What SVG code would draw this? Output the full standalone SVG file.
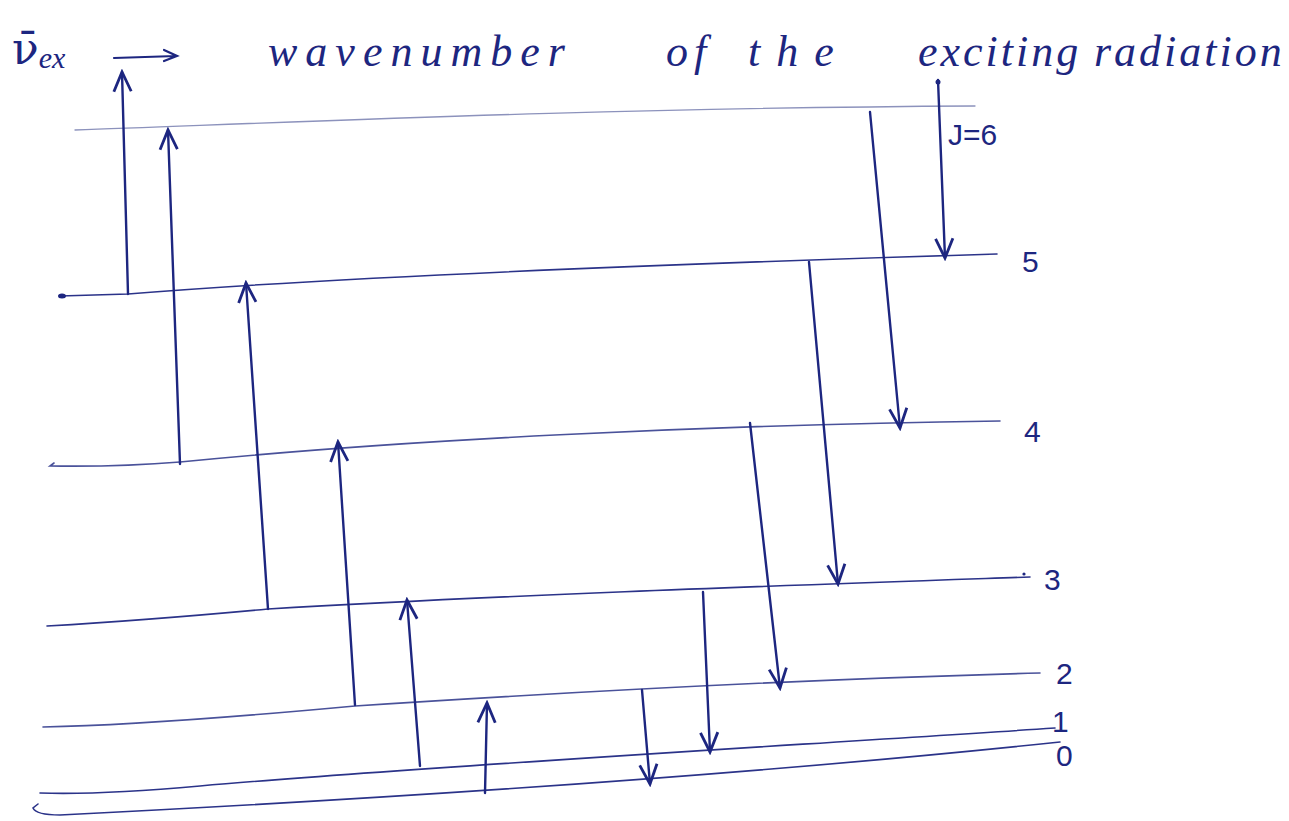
<svg xmlns="http://www.w3.org/2000/svg" width="1289" height="821" viewBox="0 0 1289 821">
<style>
.lvl{fill:none;stroke:#2b3389;stroke-width:1.6;stroke-linecap:round}
.lt{stroke:#8c92bc;stroke-width:1.3}
.md{stroke:#4a529a}
.arr{fill:none;stroke:#1d2680;stroke-width:2.4;stroke-linecap:round;marker-end:url(#ah)}
.lab{font-family:"Liberation Sans",Arial,sans-serif;font-size:30px;fill:#1d2680}
.ttl{font-family:"Liberation Serif","DejaVu Serif",serif;font-style:italic;font-size:44px;fill:#1d2680}
</style>
<defs>
<marker id="ah" viewBox="0 0 24 24" refX="21" refY="12" markerWidth="26" markerHeight="26" markerUnits="userSpaceOnUse" orient="auto">
<path d="M3,4 L21,12 L3,20" fill="none" stroke="#1d2680" stroke-width="2.6" stroke-linejoin="miter"/>
</marker>
</defs>
<rect width="1289" height="821" fill="#ffffff"/>
<g id="title">
<text x="12" y="64" font-family="DejaVu Serif,serif" font-size="44" fill="#1d2680">ν̄<tspan font-family="Liberation Serif,serif" font-style="italic" font-size="30" dy="4">ex</tspan></text>
<path d="M114,58 L176,56 M164,50 L177,56 L164,61" fill="none" stroke="#1d2680" stroke-width="2.2" stroke-linecap="round"/>
<text class="ttl" y="66"><tspan x="268" letter-spacing="8">wavenumber</tspan> <tspan x="666" letter-spacing="6">of</tspan> <tspan x="748" letter-spacing="16">the</tspan> <tspan x="918" letter-spacing="3">exciting</tspan> <tspan x="1094" letter-spacing="3">radiation</tspan></text>
</g>
<g id="level-J6">
<path class="lvl lt" d="M75,130 C 300,122 600,108 975,106"/>
<text class="lab" x="948" y="145">J=6</text>
</g>
<g id="level-J5">
<path class="lvl" d="M60,296 L128,294 C 300,280 600,266 997,254"/>
<ellipse cx="62" cy="296" rx="4" ry="2.5" fill="#1d2680"/>
<text class="lab" x="1022" y="272">5</text>
</g>
<g id="level-J4">
<path class="lvl md" d="M54,463 L50,466 Q 120,467 180,462 C 400,440 700,425 1000,421"/>
<text class="lab" x="1024" y="442">4</text>
</g>
<g id="level-J3">
<path class="lvl" d="M47,626 Q 150,620 268,609 C 500,595 800,585 1030,577"/>
<circle cx="1024" cy="574" r="1.6" fill="#1d2680"/>
<text class="lab" x="1044" y="590">3</text>
</g>
<g id="level-J2">
<path class="lvl md" d="M43,727 Q 150,725 355,706 C 600,690 850,678 1040,673"/>
<text class="lab" x="1056" y="684">2</text>
</g>
<g id="level-J1">
<path class="lvl" d="M40,793 Q 100,795 200,786 C 400,768 800,745 1055,728"/>
<text class="lab" x="1052" y="732" font-size="24">1</text>
</g>
<g id="level-J0">
<path class="lvl" d="M38,804 L33,808 Q 36,815 60,815 C 300,803 700,780 1060,742"/>
<text class="lab" x="1056" y="766" font-size="24">0</text>
</g>
<g id="connectors">
<path class="arr" d="M128,294 L122,72"/>
<path class="arr" d="M180,464 L168,130"/>
<path class="arr" d="M268,609 L246,283"/>
<path class="arr" d="M355,705 L338,442"/>
<path class="arr" d="M420,766 L407,600"/>
<path class="arr" d="M485,793 L487,703"/>
<path class="arr" d="M938,80 L945,258"/>
<path class="arr" d="M870,112 L900,428"/>
<path class="arr" d="M809,262 L838,584"/>
<path class="arr" d="M750,423 L780,688"/>
<path class="arr" d="M703,592 L710,752"/>
<path class="arr" d="M642,690 L650,784"/>
<circle cx="938" cy="82" r="2.5" fill="#1d2680"/>
</g>
</svg>
